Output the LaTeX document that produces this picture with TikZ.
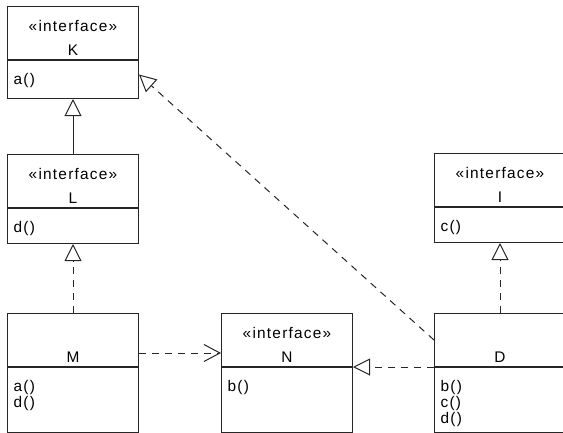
\documentclass[tikz,border=0pt]{standalone}
\usepackage{fontspec}
\setmainfont{Liberation Sans}[LetterSpace=8]
\usetikzlibrary{arrows.meta,positioning,calc}

\tikzset{
  head/.style={draw=black!85, line width=1pt, anchor=north west, minimum width=131pt, minimum height=53pt, inner sep=0pt, align=center, font=\fontsize{15.4}{24}\selectfont},
  body/.style={draw=black!85, line width=1pt, minimum width=131pt, minimum height=#1, inner sep=0pt},
  ops/.style={anchor=north west, inner sep=0pt, align=left, font=\fontsize{15.4}{16}\selectfont},
  gen/.style={draw=black!85, line width=1pt, -{Triangle[open,length=17pt,width=17pt]}},
  real/.style={gen, dash pattern=on 7pt off 6pt},
  dep/.style={draw=black!85, line width=1pt, -{Straight Barb[length=16pt,width=17pt]}, dash pattern=on 7pt off 6pt},
}
\newcommand{\stereo}{\rule{0pt}{20pt}«interface»}

\begin{document}
\begin{tikzpicture}[x=1pt,y=1pt,yscale=-1,xscale=1]
\useasboundingbox (0,0) rectangle (563,432);

% class boxes
\node[head] (Kh) at (7,6) {\stereo\\K};
\node[body=38pt, below=0pt of Kh] (Kb) {};
\node[ops] (Kops) at ($(Kb.north west)+(6.5,13)$) {a()};

\node[head] (Lh) at (7,154) {\stereo\\L};
\node[body=35pt, below=0pt of Lh] (Lb) {};
\node[ops] (Lops) at ($(Lb.north west)+(6.5,13)$) {d()};

\node[head] (Ih) at (434,153) {\stereo\\I};
\node[body=35pt, below=0pt of Ih] (Ib) {};
\node[ops] (Iops) at ($(Ib.north west)+(6.5,13)$) {c()};

\node[head] (Mh) at (7,313) {\rule{0pt}{20pt}\\M};
\node[body=65pt, below=0pt of Mh] (Mb) {};
\node[ops] (Mops) at ($(Mb.north west)+(6.5,13)$) {a()\\d()};

\node[head] (Nh) at (221,313) {\stereo\\N};
\node[body=65pt, below=0pt of Nh] (Nb) {};
\node[ops] (Nops) at ($(Nb.north west)+(6.5,13)$) {b()};

\node[head] (Dh) at (434,313) {\rule{0pt}{20pt}\\D};
\node[body=65pt, below=0pt of Dh] (Db) {};
\node[ops] (Dops) at ($(Db.north west)+(6.5,13)$) {b()\\c()\\d()};

% relations
\draw[gen] (Lh.north) -- (Kb.south);
\draw[real] (Mh.north) -- (Lb.south);
\draw[real] (Dh.north) -- (Ib.south);
\draw[real] (Dh.south west) -- (Nh.south east);
\draw[real] (Dh.west) -- ($(Kb.east)+(0,-5)$);
\draw[dep] ($(Mh.east)+(0,13)$) -- ($(Nh.west)+(0,13)$);

\end{tikzpicture}
\end{document}
